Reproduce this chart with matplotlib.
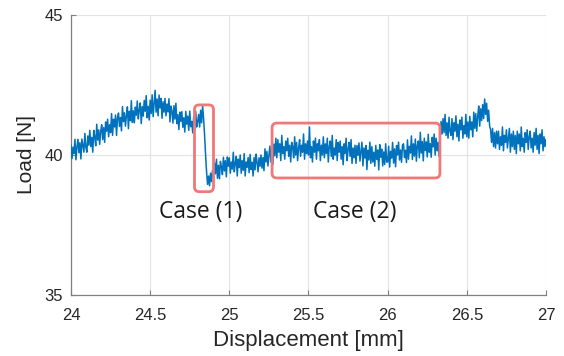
import numpy as np
import matplotlib
matplotlib.use("Agg")
import matplotlib.pyplot as plt
from matplotlib.patches import FancyBboxPatch

# ---------------- data ----------------
x_start, x_end = 24.0, 27.0          # displacement range of the samples [mm]
load = [
    # 24.0 - 24.1
    40.35, 39.87, 40.28, 40.05, 40.56, 39.83, 40.29, 40.56, 40.08, 40.44, 39.86, 40.57, 40.34, 40.10, 40.77, 40.28,
    # 24.1 - 24.2
    40.10, 40.68, 40.35, 40.88, 40.30, 40.63, 40.10, 40.88, 40.65, 40.33, 41.10, 40.53, 40.90, 40.38, 40.85, 41.08,
    # 24.2 - 24.3
    40.55, 40.98, 40.45, 41.18, 40.85, 41.28, 40.65, 41.08, 40.80, 41.48, 40.70, 41.28, 41.00, 41.43, 40.70, 41.33,
    # 24.3 - 24.4
    41.50, 41.02, 41.34, 40.86, 41.73, 41.19, 41.51, 41.03, 41.40, 41.72, 40.94, 41.56, 41.23, 41.94, 41.16, 41.58,
    # 24.4 - 24.5
    41.15, 41.71, 41.42, 41.93, 41.29, 41.60, 41.86, 41.12, 41.73, 41.39, 41.95, 41.56, 42.12, 41.33, 41.74, 41.25,
    # 24.5 - 24.6
    41.96, 41.48, 42.15, 41.37, 41.84, 42.31, 41.53, 42.00, 41.40, 42.14, 41.68, 42.02, 41.31, 41.90, 41.53, 42.02,
    # 24.6 - 24.7
    41.40, 41.82, 41.54, 42.01, 41.18, 41.75, 41.57, 41.14, 41.76, 41.28, 41.85, 41.12, 41.44, 40.91, 41.53, 41.20,
    # 24.7 - 24.8
    41.55, 40.99, 41.33, 40.82, 41.56, 41.10, 41.39, 40.88, 41.57, 41.01, 41.20, 40.79, 41.38, 40.92, 41.56, 41.00,
    # 24.8 - 24.9
    41.20, 41.45, 41.00, 41.60, 41.15, 41.75, 41.30, 40.70, 40.00, 39.40, 38.95, 39.25, 38.90, 39.35, 39.05, 39.45,
    # 24.9 - 25.0
    39.20, 39.72, 39.33, 39.85, 39.17, 39.63, 39.15, 39.77, 39.58, 39.30, 39.92, 39.43, 39.80, 39.22, 39.93, 39.60,
    # 25.0 - 25.1
    39.90, 39.35, 39.75, 39.50, 40.10, 39.40, 39.70, 39.95, 39.25, 39.85, 39.55, 40.00, 39.35, 39.80, 39.45, 40.05,
    # 25.1 - 25.2
    39.25, 39.75, 39.56, 39.91, 39.37, 40.02, 39.48, 39.74, 39.25, 39.91, 39.47, 40.03, 39.74, 39.40, 39.90, 39.60,
    # 25.2 - 25.3
    40.00, 39.53, 39.91, 39.44, 40.22, 39.75, 40.13, 39.61, 39.99, 40.32, 39.75, 40.23, 39.66, 40.39, 39.97, 40.60,
    # 25.3 - 25.4
    39.90, 40.55, 40.10, 40.40, 39.80, 40.70, 40.05, 40.30, 39.85, 40.50, 40.15, 40.60, 39.95, 40.35, 39.75, 40.45,
    # 25.4 - 25.5
    40.30, 39.90, 40.65, 40.00, 40.45, 39.80, 40.25, 40.55, 39.95, 40.35, 40.10, 40.75, 39.85, 40.40, 40.05, 40.50,
    # 25.5 - 25.6
    40.00, 41.00, 39.90, 40.30, 39.75, 40.50, 40.10, 40.60, 39.85, 40.40, 40.15, 40.55, 39.80, 40.35, 40.00, 40.65,
    # 25.6 - 25.7
    39.90, 40.40, 40.05, 40.60, 39.75, 40.30, 40.50, 39.95, 40.70, 39.85, 40.25, 40.00, 40.55, 39.80, 40.45, 40.10,
    # 25.7 - 25.8
    40.50, 39.85, 40.30, 39.65, 40.40, 40.05, 40.60, 39.80, 40.20, 40.45, 39.95, 40.55, 39.70, 40.25, 39.90, 40.35,
    # 25.8 - 25.9
    39.70, 40.34, 39.99, 40.43, 39.78, 40.12, 40.46, 39.61, 40.25, 39.89, 40.34, 39.48, 40.17, 39.82, 40.46, 39.70,
    # 25.9 - 26.0
    40.30, 39.75, 40.10, 39.60, 40.34, 39.84, 40.18, 39.47, 40.37, 39.92, 40.21, 39.61, 40.11, 39.66, 40.40, 39.75,
    # 26.0 - 26.1
    39.75, 40.31, 39.57, 40.13, 39.89, 40.45, 39.71, 40.22, 39.58, 40.34, 40.00, 40.46, 39.82, 40.18, 39.74, 40.35,
    # 26.1 - 26.2
    40.40, 39.91, 40.17, 39.73, 40.54, 39.85, 40.31, 40.07, 40.68, 39.84, 40.40, 39.96, 40.57, 39.78, 40.34, 40.50,
    # 26.2 - 26.3
    39.90, 40.81, 40.07, 40.48, 39.79, 40.60, 40.16, 40.47, 39.93, 40.74, 40.10, 40.41, 39.92, 40.63, 40.29, 40.75,
    # 26.3 - 26.4
    40.00, 40.60, 40.15, 40.45, 39.95, 40.55, 41.20, 40.75, 41.30, 40.80, 41.45, 40.70, 41.15, 40.60, 41.35, 40.85,
    # 26.4 - 26.5
    40.70, 41.30, 40.55, 41.15, 40.85, 41.40, 40.65, 41.10, 40.50, 41.25, 40.90, 41.35, 40.60, 41.05, 40.75, 41.45,
    # 26.5 - 26.6
    40.65, 41.18, 40.60, 41.38, 40.90, 41.18, 40.65, 41.53, 40.95, 41.48, 40.85, 41.38, 41.75, 41.03, 41.65, 41.23,
    # 26.6 - 26.7
    41.80, 41.30, 42.00, 41.45, 41.85, 41.20, 41.60, 41.05, 40.90, 40.45, 40.95, 40.30, 40.80, 40.25, 40.85, 40.40,
    # 26.7 - 26.8
    40.85, 40.20, 40.65, 40.35, 41.00, 40.15, 40.70, 40.45, 40.90, 40.25, 40.60, 40.95, 40.10, 40.75, 40.30, 40.85,
    # 26.8 - 26.9
    40.20, 40.70, 40.05, 40.85, 40.40, 40.75, 40.15, 41.00, 40.30, 40.60, 40.10, 40.80, 40.45, 40.90, 40.20, 40.65,
    # 26.9 - 27.0
    40.85, 40.25, 40.60, 40.10, 40.80, 40.35, 40.95, 40.20, 40.70, 40.05, 40.75, 40.40, 40.90, 40.15, 40.65, 40.30,
    40.55,
]

x_ticks = [24, 24.5, 25, 25.5, 26, 26.5, 27]
x_tick_labels = ["24", "24.5", "25", "25.5", "26", "26.5", "27"]
y_ticks = [35, 40, 45]
y_tick_labels = ["35", "40", "45"]

# highlighted regions: (x0, x1, y0, y1) in data units, and their labels
case_boxes = [(24.78, 24.90, 38.69, 41.79), (25.27, 26.33, 39.18, 41.14)]
case_labels = ["Case (1)", "Case (2)"]
case_label_pos = [(24.82, 37.96), (25.79, 37.96)]

# ---------------- plot ----------------
displacement = np.linspace(x_start, x_end, len(load))

fig = plt.figure(figsize=(5.64, 3.56), dpi=100)
ax = fig.add_axes([71 / 564, 1 - 295 / 356, 475 / 564, 280 / 356])

ax.plot(displacement, load, color="#0072BD", lw=1.1, zorder=3)

ax.set_xlim(24, 27)
ax.set_ylim(35, 45)
ax.set_xticks(x_ticks)
ax.set_xticklabels(x_tick_labels)
ax.set_yticks(y_ticks)
ax.set_yticklabels(y_tick_labels)

for lab in ax.get_xticklabels() + ax.get_yticklabels():
    lab.set_fontfamily("Liberation Sans")
    lab.set_fontsize(12)
    lab.set_color("#262626")

ax.tick_params(axis="both", direction="in", length=3.5, width=0.8, color="#808080")
ax.tick_params(axis="x", pad=9.5)
ax.tick_params(axis="y", pad=6)

ax.grid(True, color="#E3E3E3", lw=0.8, zorder=0)
ax.set_axisbelow(True)
for side in ["top", "right"]:
    ax.spines[side].set_visible(False)
for side in ["left", "bottom"]:
    ax.spines[side].set_color("#808080")
    ax.spines[side].set_linewidth(0.9)

ax.set_xlabel("Displacement [mm]", family="Liberation Sans", fontsize=16, color="#262626", labelpad=5)
ax.set_ylabel("Load [N]", family="Liberation Sans", fontsize=15, color="#262626", labelpad=6)

for (x0, x1, y0, y1) in case_boxes:
    box = FancyBboxPatch((x0, y0), x1 - x0, y1 - y0,
                         boxstyle="round,pad=0,rounding_size=0.03",
                         mutation_aspect=5.65,
                         fill=False, edgecolor="#F07878", lw=2.0, zorder=4)
    ax.add_patch(box)

for text, (tx, ty) in zip(case_labels, case_label_pos):
    ax.text(tx, ty, text, ha="center", va="center", fontsize=16.5,
            family="Open Sans", color="#1a1a1a", zorder=5)

fig.savefig("out.png", dpi=100)
